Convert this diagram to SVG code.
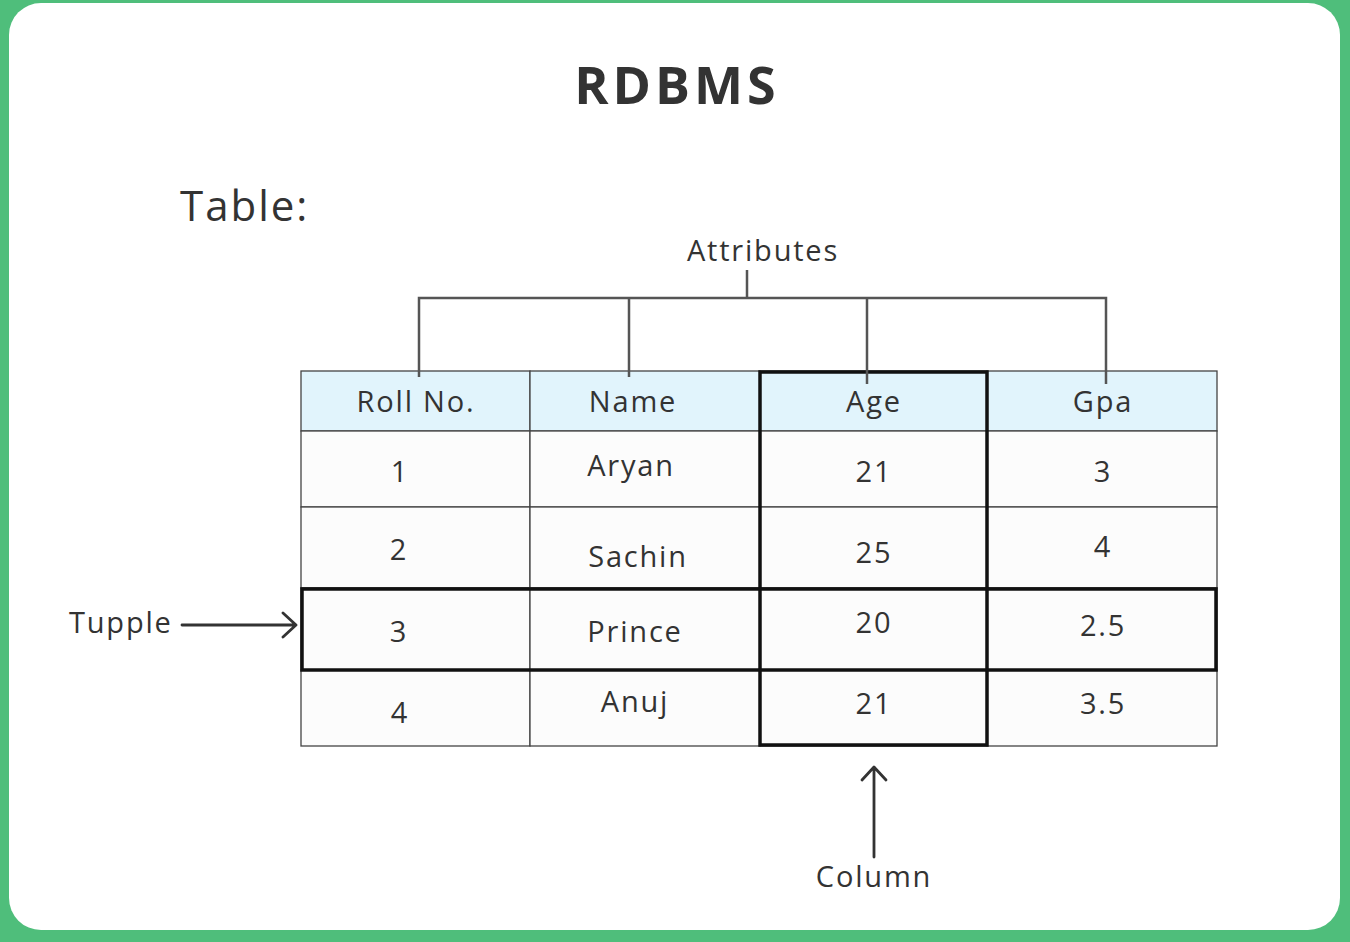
<svg xmlns="http://www.w3.org/2000/svg" width="1350" height="942" viewBox="0 0 1350 942">
<style>
text{font-family:"Open Sans","Noto Sans","Liberation Sans",sans-serif;fill:#333;letter-spacing:1.8px;}
.h{font-size:29px;text-anchor:middle;}
.c{font-size:29px;text-anchor:middle;}
.hd{fill:#e1f4fc;stroke:#444;stroke-width:1.3;}
.cell{fill:#fcfcfc;stroke:#444;stroke-width:1.3;}
.bold{fill:none;stroke:#111;stroke-width:3.5;}
.conn{fill:none;stroke:#555;stroke-width:2.5;}
.arr{fill:none;stroke:#333;stroke-width:2.8;stroke-linecap:round;stroke-linejoin:round;}
</style>
<rect x="0" y="0" width="1350" height="942" fill="#4fbe7b"/>
<rect x="9" y="3" width="1331" height="927" rx="32" fill="#ffffff"/>
<text x="677" y="104" style="font-size:52px;font-weight:700;text-anchor:middle;letter-spacing:4px">RDBMS</text>
<text x="180" y="221" style="font-size:42px;letter-spacing:2px">Table:</text>
<text x="763" y="261" class="h">Attributes</text>

<g id="table">
<rect class="hd" x="301" y="371" width="229" height="60"/>
<rect class="hd" x="530" y="371" width="230" height="60"/>
<rect class="hd" x="760" y="371" width="227" height="60"/>
<rect class="hd" x="987" y="371" width="230" height="60"/>
<g class="cellrows">
<rect class="cell" x="301" y="431" width="229" height="76"/>
<rect class="cell" x="530" y="431" width="230" height="76"/>
<rect class="cell" x="760" y="431" width="227" height="76"/>
<rect class="cell" x="987" y="431" width="230" height="76"/>
<rect class="cell" x="301" y="507" width="229" height="81"/>
<rect class="cell" x="530" y="507" width="230" height="81"/>
<rect class="cell" x="760" y="507" width="227" height="81"/>
<rect class="cell" x="987" y="507" width="230" height="81"/>
<rect class="cell" x="301" y="588" width="229" height="82"/>
<rect class="cell" x="530" y="588" width="230" height="82"/>
<rect class="cell" x="760" y="588" width="227" height="82"/>
<rect class="cell" x="987" y="588" width="230" height="82"/>
<rect class="cell" x="301" y="670" width="229" height="76"/>
<rect class="cell" x="530" y="670" width="230" height="76"/>
<rect class="cell" x="760" y="670" width="227" height="76"/>
<rect class="cell" x="987" y="670" width="230" height="76"/>
</g>
<rect id="column-box" class="bold" x="760" y="372" width="227" height="373"/>
<rect id="tuple-box" class="bold" x="302" y="589" width="914" height="81"/>
<text class="h" x="416" y="412">Roll No.</text>
<text class="h" x="633" y="412">Name</text>
<text class="h" x="874" y="412">Age</text>
<text class="h" x="1103" y="412">Gpa</text>
<text class="c" x="400" y="482">1</text>
<text class="c" x="631" y="476">Aryan</text>
<text class="c" x="874" y="482">21</text>
<text class="c" x="1103" y="482">3</text>
<text class="c" x="399" y="560">2</text>
<text class="c" x="638" y="567">Sachin</text>
<text class="c" x="874" y="563">25</text>
<text class="c" x="1103" y="557">4</text>
<text class="c" x="399" y="642">3</text>
<text class="c" x="635" y="642">Prince</text>
<text class="c" x="874" y="633">20</text>
<text class="c" x="1103" y="636">2.5</text>
<text class="c" x="400" y="723">4</text>
<text class="c" x="635" y="712">Anuj</text>
<text class="c" x="874" y="714">21</text>
<text class="c" x="1103" y="714">3.5</text>
</g>

<g id="tupple-label">
<text x="69" y="633" style="font-size:29px">Tupple</text>
</g>
<g id="column-label">
<text x="874" y="887" class="h">Column</text>
</g>

<g id="connectors">
<path class="conn" d="M747 270 V298 M419 377 V298 H1106 V384 M629 298 V377 M867 298 V384"/>
<path class="arr" d="M182 625 H295 M283 613 L296 625 L283 637"/>
<path class="arr" d="M874 857 V768 M862 780 L874 767 L886 780"/>
</g>
</svg>
